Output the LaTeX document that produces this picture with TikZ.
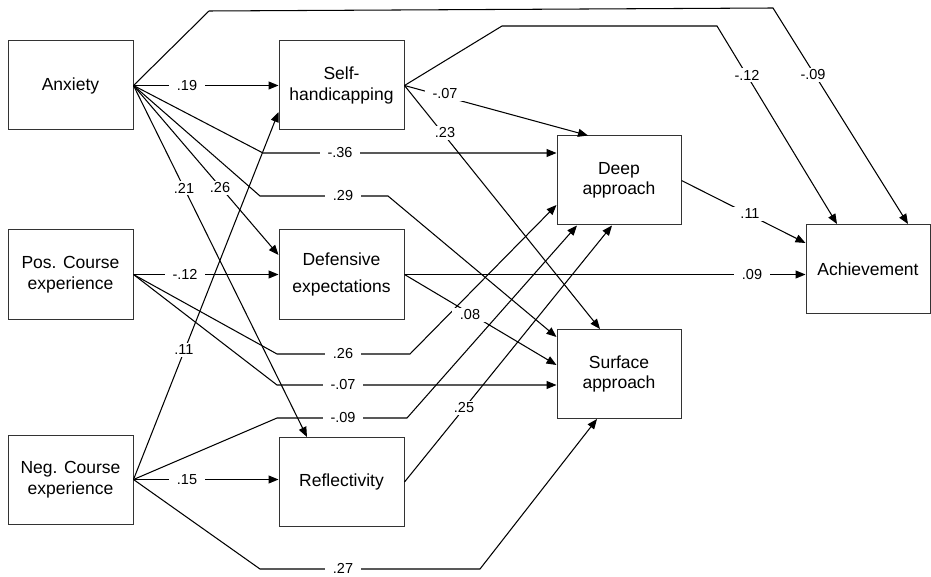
\documentclass[tikz,border=0pt]{standalone}
\usepackage{fontspec}
\setmainfont{Liberation Sans}
\usetikzlibrary{arrows.meta,calc}
\begin{document}
\begin{tikzpicture}[x=1pt,y=-1pt,
 box/.style={draw=black!80, line width=1pt, minimum width=125pt, minimum height=89pt, align=center, font=\fontsize{17.5}{20.5}\selectfont, inner sep=0pt},
 con/.style={line width=1.05pt, black},
 arr/.style={con, -{Triangle[length=10pt,width=8pt]}},
 lab/.style={fill=white, inner xsep=8pt, inner ysep=2pt, font=\fontsize{14.5}{17}\selectfont}]
\useasboundingbox (0,0) rectangle (931,577);
% boxes
\node[box] (anx) at (70.5,85.5) {Anxiety};
\node[box] (self) at (341.5,85.5) {Self-\\handicapping};
\node[box] (pos) at (70.5,274.5) {Pos. Course\\experience};
\node[box] (def) at (341.5,274.5) {Defensive\\[7pt]expectations};
\node[box] (neg) at (70.5,479.5) {Neg. Course\\experience};
\node[box] (refl) at (341.5,482) {Reflectivity};
\node[box, minimum width=124pt] (deep) at (619,180.5) {Deep\\approach};
\node[box, minimum width=124pt] (surf) at (619,374) {Surface\\approach};
\node[box, minimum width=124pt] (ach) at (868,269) {Achievement};
% bend points
\coordinate (t1) at (209,11); \coordinate (t2) at (773,8);
\coordinate (s1) at (502,26); \coordinate (s2) at (717,26);
\coordinate (a1) at (263,153);
\coordinate (b1) at (260,196); \coordinate (b2) at (388,196);
\coordinate (c1) at (277,354); \coordinate (c2) at (410,354);
\coordinate (d1) at (277,385);
\coordinate (e1) at (277,418); \coordinate (e2) at (407,418);
\coordinate (f1) at (260,569); \coordinate (f2) at (480,569);
% connectors
\draw[arr] (anx.east) -- (anx.east -| self.west);
\draw[arr] (anx.east) -- (t1) -- (t2) -- ([xshift=40pt]ach.north);
\draw[arr] (self.east) -- (s1) -- (s2) -- ([xshift=-31pt]ach.north);
\draw[arr] (self.east) -- ([xshift=-31pt]deep.north);
\draw[arr] (self.east) -- ([xshift=-19pt]surf.north);
\draw[arr] (anx.east) -- (a1) -- (a1 -| deep.west);
\draw[arr] (anx.east) -- (b1) -- (b2) -- ([yshift=37pt]surf.west);
\draw[arr] (anx.east) -- ([yshift=19.5pt]def.west);
\draw[arr] (anx.east) -- ([xshift=-34.5pt]refl.north);
\draw[arr] (neg.east) -- ([yshift=-26.5pt]self.west);
\draw[arr] (pos.east) -- (pos.east -| def.west);
\draw[arr] (pos.east) -- (c1) -- (c2) -- ([yshift=-24.5pt]deep.west);
\draw[arr] (pos.east) -- (d1) -- (d1 -| surf.west);
\draw[arr] (neg.east) -- (e1) -- (e2) -- ([xshift=-42pt]deep.south);
\draw[arr] (refl.east) -- ([xshift=-7pt]deep.south);
\draw[arr] (def.east) -- (def.east -| ach.west);
\draw[arr] (def.east) -- ([yshift=9pt]surf.west);
\draw[arr] (deep.east) -- ([yshift=26pt]ach.west);
\draw[arr] (neg.east) -- (neg.east -| refl.west);
\draw[arr] (neg.east) -- (f1) -- (f2) -- ([xshift=-22pt]surf.south);
% labels
\node[lab] (l1) at (187,85.5) {.19};
\node[lab] (l2) at (813,75) {-.09};
\node[lab] (l3) at (747,75) {-.12};
\node[lab] (l4) at (445,94) {-.07};
\node[lab] (l5) at (445,133) {.23};
\node[lab] (l6) at (340,153) {-.36};
\node[lab] (l7) at (343,196) {.29};
\node[lab] (l8) at (220,188) {.26};
\node[lab] (l9) at (184,188) {.21};
\node[lab] (l10) at (184,350) {.11};
\node[lab] (l11) at (185,274.5) {-.12};
\node[lab] (l12) at (343,354) {.26};
\node[lab] (l13) at (343,385) {-.07};
\node[lab] (l14) at (343,418) {-.09};
\node[lab] (l15) at (464,408) {.25};
\node[lab] (l16) at (752,274.5) {.09};
\node[lab] (l17) at (470,315) {.08};
\node[lab] (l18) at (750,214) {.11};
\node[lab] (l19) at (187,479.5) {.15};
\node[lab] (l20) at (343,568) {.27};
\end{tikzpicture}
\end{document}
